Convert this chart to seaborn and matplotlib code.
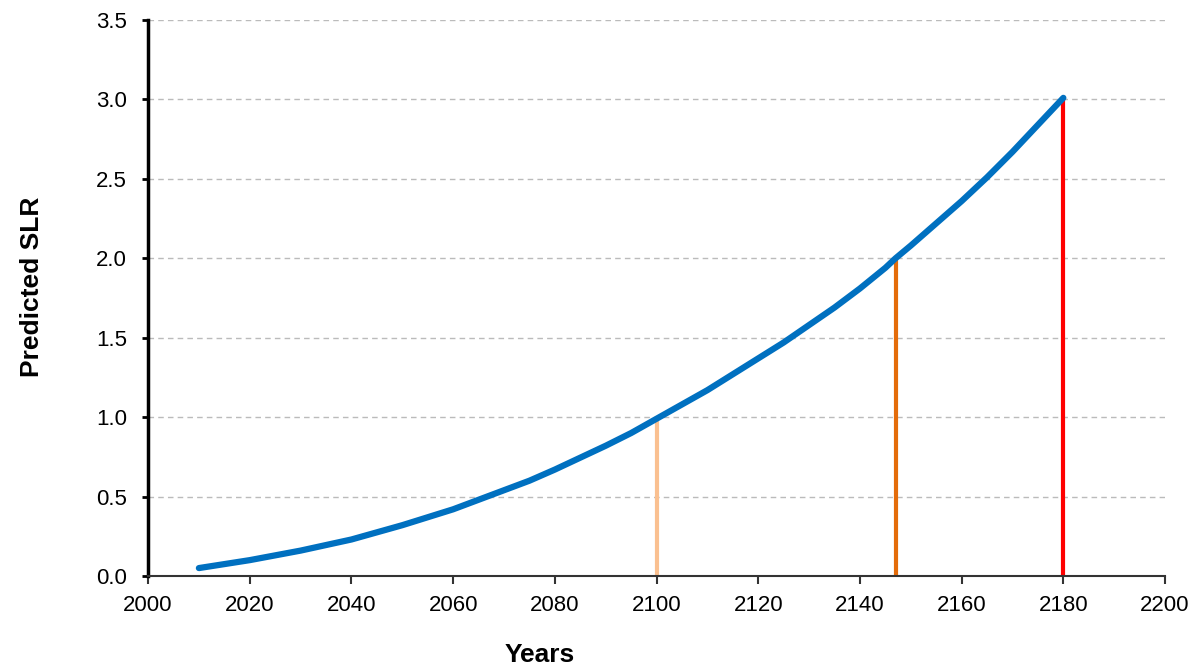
import numpy as np
import pandas as pd
import seaborn as sns
import matplotlib.pyplot as plt

# predicted sea level rise curve
years = [2010, 2015, 2020, 2025, 2030, 2035, 2040, 2045, 2050, 2055, 2060,
         2065, 2070, 2075, 2080, 2085, 2090, 2095, 2100, 2105, 2110, 2115,
         2120, 2125, 2130, 2135, 2140, 2145, 2147, 2150, 2155, 2160, 2165,
         2170, 2175, 2180]
slr = [0.05, 0.075, 0.10, 0.13, 0.16, 0.195, 0.23, 0.275, 0.32, 0.37, 0.42,
       0.48, 0.54, 0.60, 0.67, 0.745, 0.82, 0.90, 0.99, 1.08, 1.17, 1.27,
       1.37, 1.47, 1.58, 1.69, 1.81, 1.94, 2.00, 2.08, 2.22, 2.36, 2.51,
       2.67, 2.84, 3.01]

# threshold markers
marker_years = [2100, 2147, 2180]
marker_levels = [1.0, 2.0, 3.0]
marker_colors = ["#FAC090", "#E46C0A", "#FF0000"]

df = pd.DataFrame({"Years": years, "SLR": slr})

sns.set_style("white")
plt.rcParams["font.family"] = ["Liberation Sans", "DejaVu Sans"]
plt.rcParams["text.color"] = "black"
plt.rcParams["axes.labelcolor"] = "black"

fig = plt.figure(figsize=(11.91, 6.67), dpi=100)
ax = fig.add_axes([0.1243, 0.1364, 0.8539, 0.8336])

ax.vlines(marker_years, 0, marker_levels, colors=marker_colors, linewidth=3, zorder=2)
sns.lineplot(data=df, x="Years", y="SLR", ax=ax, color="#0070C0", linewidth=4.5,
             solid_capstyle="round", solid_joinstyle="round", zorder=3)

ax.set_xlim(2000, 2200)
ax.set_ylim(0, 3.5)
ax.set_xticks(np.arange(2000, 2201, 20))
ax.set_yticks(np.arange(0, 3.51, 0.5))
ax.set_yticklabels([f"{v:.1f}" for v in np.arange(0, 3.51, 0.5)])
ax.yaxis.grid(True, linestyle=(0, (4, 3)), color="#BBBBBB", linewidth=1)
ax.set_axisbelow(True)

for s in ["top", "right"]:
    ax.spines[s].set_visible(False)
ax.spines["left"].set_linewidth(2.5)
ax.spines["left"].set_color("black")
ax.spines["bottom"].set_linewidth(1.5)
ax.spines["bottom"].set_color("#333333")

ax.tick_params(axis="y", direction="out", length=4.5, width=2, labelsize=16, pad=10.5,
               left=True, color="black", labelcolor="black")
ax.tick_params(axis="x", direction="out", length=6, width=1.5, labelsize=16, pad=8,
               bottom=True, color="#333333", labelcolor="black")

ax.set_xlabel("Years", fontsize=19, fontweight="bold")
ax.set_ylabel("Predicted SLR", fontsize=19, fontweight="bold")
ax.xaxis.set_label_coords(0.385, -0.121)
ax.yaxis.set_label_coords(-0.102, 0.52)

fig.savefig("out.png", dpi=100)
